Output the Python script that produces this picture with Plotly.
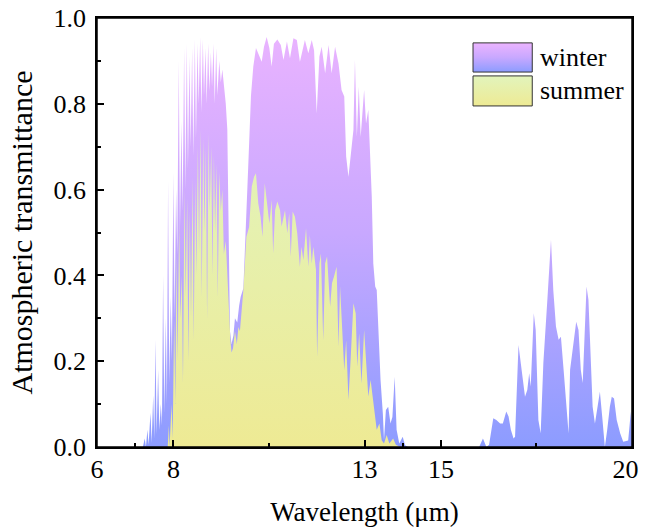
import plotly.graph_objects as go

# ---------------- data ----------------
winter_wl = [
    6.00, 7.10, 7.20, 7.25, 7.28, 7.32, 7.35, 7.40, 7.43, 7.47, 7.50, 7.53, 7.56, 7.60, 7.63,
    7.67, 7.70, 7.73, 7.76, 7.80, 7.83, 7.86, 7.89, 7.93, 7.96, 8.00, 8.03, 8.07, 8.10,
    8.14, 8.17, 8.21, 8.24, 8.28, 8.31, 8.35, 8.38, 8.42, 8.45, 8.49, 8.52, 8.56, 8.59,
    8.63, 8.66, 8.70, 8.73, 8.77, 8.80, 8.84, 8.87, 8.91, 8.94, 8.98, 9.01, 9.05, 9.08,
    9.12, 9.15, 9.20, 9.24, 9.28, 9.33, 9.37, 9.41, 9.445, 9.48, 9.52, 9.57, 9.61, 9.67,
    9.72, 9.76, 9.83, 9.90, 9.96, 10.03, 10.09, 10.16, 10.25, 10.31, 10.37, 10.44, 10.51,
    10.57, 10.63, 10.72, 10.81, 10.88, 10.97, 11.05, 11.14, 11.23, 11.31, 11.38, 11.44,
    11.53, 11.62, 11.68, 11.75, 11.82, 11.88, 11.97, 12.06, 12.14, 12.23, 12.32, 12.40,
    12.47, 12.52, 12.58, 12.64, 12.71, 12.75, 12.80, 12.85, 12.90, 12.99, 13.04, 13.10,
    13.19, 13.23, 13.28, 13.32, 13.36, 13.42, 13.48, 13.51, 13.56, 13.62, 13.68, 13.73,
    13.79, 13.84, 13.91, 14.00, 14.06, 14.14, 15.90, 16.00, 16.10, 16.19, 16.26, 16.37,
    16.45, 16.55, 16.62, 16.71, 16.77, 16.83, 16.90, 16.94, 17.03, 17.11, 17.20, 17.26,
    17.31, 17.35, 17.43, 17.48, 17.55, 17.61, 17.68, 17.79, 17.88, 17.94, 18.01, 18.08,
    18.14, 18.21, 18.28, 18.34, 18.38, 18.47, 18.54, 18.60, 18.66, 18.71, 18.77, 18.81,
    18.86, 18.92, 18.97, 19.03, 19.09, 19.16, 19.22, 19.29, 19.35, 19.42, 19.47, 19.53,
    19.60, 19.69, 19.77, 19.90, 19.97, 20.00,
]
winter_t = [
    0.00, 0.00, 0.00, 0.02, 0.00, 0.04, 0.005, 0.08, 0.01, 0.12, 0.02, 0.25, 0.03, 0.18, 0.04,
    0.10, 0.05, 0.40, 0.08, 0.30, 0.10, 0.62, 0.15, 0.35, 0.20, 0.64, 0.30, 0.60, 0.45,
    0.90, 0.50, 0.76, 0.55, 0.93, 0.60, 0.94, 0.65, 0.91, 0.70, 0.93, 0.68, 0.95, 0.72,
    0.94, 0.80, 0.955, 0.78, 0.95, 0.82, 0.93, 0.80, 0.94, 0.83, 0.92, 0.84, 0.94, 0.80,
    0.93, 0.82, 0.90, 0.85, 0.88, 0.84, 0.80, 0.74, 0.43, 0.27, 0.24, 0.26, 0.30, 0.29,
    0.33, 0.35, 0.37, 0.51, 0.66, 0.82, 0.887, 0.93, 0.91, 0.898, 0.933, 0.956, 0.93,
    0.887, 0.94, 0.95, 0.937, 0.902, 0.945, 0.906, 0.953, 0.949, 0.898, 0.925, 0.949,
    0.918, 0.949, 0.925, 0.778, 0.91, 0.933, 0.871, 0.937, 0.871, 0.933, 0.894, 0.832,
    0.817, 0.677, 0.63, 0.684, 0.739, 0.902, 0.723, 0.84, 0.723, 0.832, 0.754, 0.786,
    0.584, 0.428, 0.374, 0.366, 0.273, 0.156, 0.078, 0.016, 0.086, 0.094, 0.055, 0.07,
    0.164, 0.04, 0.008, 0.024, 0.004, 0.00, 0.00, 0.00, 0.02, 0.00, 0.005, 0.067,
    0.063, 0.055, 0.055, 0.083, 0.071, 0.04, 0.02, 0.024, 0.238, 0.18, 0.117, 0.133,
    0.172, 0.141, 0.312, 0.273, 0.063, 0.032, 0.195, 0.35, 0.483, 0.366, 0.281, 0.25,
    0.257, 0.18, 0.102, 0.032, 0.18, 0.25, 0.292, 0.273, 0.18, 0.149, 0.312, 0.374,
    0.343, 0.18, 0.094, 0.055, 0.094, 0.129, 0.071, 0.00, 0.039, 0.094, 0.117, 0.113,
    0.063, 0.032, 0.012, 0.015, 0.083, 0.005,
]

summer_wl = [
    6.00, 7.85, 7.88, 7.90, 7.95, 7.98, 8.02, 8.05, 8.08, 8.11, 8.15, 8.18, 8.22, 8.25,
    8.29, 8.32, 8.36, 8.39, 8.43, 8.46, 8.50, 8.53, 8.57, 8.60, 8.64, 8.67, 8.71, 8.74,
    8.78, 8.81, 8.85, 8.88, 8.92, 8.95, 8.99, 9.02, 9.06, 9.09, 9.13, 9.16, 9.20, 9.24,
    9.28, 9.32, 9.37, 9.41, 9.45, 9.49, 9.52, 9.56, 9.61, 9.66, 9.70, 9.74, 9.83, 9.91,
    9.98, 10.05, 10.11, 10.16, 10.22, 10.28, 10.33, 10.39, 10.44, 10.51, 10.57, 10.61,
    10.66, 10.72, 10.79, 10.83, 10.92, 10.98, 11.03, 11.07, 11.12, 11.18, 11.24, 11.31,
    11.35, 11.40, 11.47, 11.53, 11.57, 11.62, 11.66, 11.73, 11.76, 11.82, 11.86, 11.92,
    11.97, 12.02, 12.10, 12.15, 12.20, 12.27, 12.32, 12.36, 12.40, 12.47, 12.52, 12.58,
    12.64, 12.71, 12.77, 12.81, 12.86, 12.92, 12.99, 13.04, 13.10, 13.16, 13.21, 13.28,
    13.32, 13.39, 13.45, 13.51, 13.58, 13.65, 13.75, 13.82, 13.93, 20.00,
]
summer_t = [
    0.00, 0.00, 0.05, 0.00, 0.10, 0.02, 0.30, 0.10, 0.45, 0.20, 0.52, 0.30, 0.40, 0.15,
    0.60, 0.35, 0.58, 0.20, 0.55, 0.30, 0.63, 0.25, 0.62, 0.40, 0.70, 0.45, 0.74, 0.35,
    0.72, 0.50, 0.70, 0.30, 0.73, 0.55, 0.70, 0.40, 0.68, 0.50, 0.66, 0.35, 0.64, 0.55,
    0.60, 0.45, 0.48, 0.40, 0.30, 0.25, 0.22, 0.23, 0.27, 0.24, 0.28, 0.27, 0.366, 0.49,
    0.513, 0.607, 0.63, 0.638, 0.568, 0.537, 0.49, 0.615, 0.576, 0.521, 0.576, 0.451,
    0.552, 0.572, 0.552, 0.514, 0.552, 0.498, 0.545, 0.444, 0.549, 0.537, 0.498, 0.42,
    0.467, 0.436, 0.51, 0.42, 0.494, 0.428, 0.467, 0.413, 0.21, 0.428, 0.451, 0.249,
    0.428, 0.444, 0.327, 0.382, 0.397, 0.42, 0.234, 0.374, 0.304, 0.179, 0.249, 0.11,
    0.21, 0.335, 0.312, 0.187, 0.265, 0.148, 0.273, 0.203, 0.118, 0.156, 0.118, 0.07,
    0.04, 0.055, 0.016, 0.008, 0.028, 0.008, 0.02, 0.005, 0.00, 0.00,
]

series_names = ["winter", "summer"]
x_major_ticks = [6, 8, 13, 15, 20]
x_tick_labels = ["6", "8", "13", "15", "20\u2007"]
x_minor_ticks = [7, 10.5, 14, 17.5]
y_major_ticks = [0.0, 0.2, 0.4, 0.6, 0.8, 1.0]
y_minor_ticks = [0.1, 0.3, 0.5, 0.7, 0.9]

# ---------------- styling ----------------
FONT = "Liberation Serif"
winter_scale = [[0.0, "#8c9cff"], [0.5, "#c8a8ff"], [1.0, "#ecb4ff"]]
summer_scale = [[0.0, "#eeea94"], [1.0, "#e2f4bc"]]

fig = go.Figure()

fig.add_trace(go.Scatter(
    x=winter_wl, y=winter_t, mode="lines", line=dict(width=0),
    fill="tozeroy",
    fillgradient=dict(type="vertical", colorscale=winter_scale, start=0, stop=1),
    showlegend=False, hoverinfo="skip",
))
fig.add_trace(go.Scatter(
    x=summer_wl, y=summer_t, mode="lines", line=dict(width=0),
    fill="tozeroy",
    fillgradient=dict(type="vertical", colorscale=summer_scale, start=0, stop=0.75),
    showlegend=False, hoverinfo="skip",
))

# custom legend swatches (data coordinates)
lx0, lx1 = 15.84, 17.39
boxes = [(0.874, 0.942, winter_scale), (0.795, 0.865, summer_scale)]
for (y0, y1, cs), name in zip(boxes, series_names):
    fig.add_trace(go.Scatter(
        x=[lx0, lx1, lx1, lx0, lx0], y=[y0, y0, y1, y1, y0],
        mode="lines", line=dict(color="#333333", width=1),
        fill="toself",
        fillgradient=dict(type="vertical", colorscale=cs, start=y0, stop=y1),
        showlegend=False, hoverinfo="skip",
    ))
    fig.add_annotation(
        x=17.55, y=(y0 + y1) / 2, xref="x", yref="y", text=name,
        showarrow=False, xanchor="left", yanchor="middle",
        font=dict(family=FONT, size=26, color="black"),
    )

# plot frame
fig.add_shape(type="rect", xref="paper", yref="paper", x0=0, x1=1, y0=0, y1=1,
              line=dict(color="black", width=1.5), fillcolor="rgba(0,0,0,0)", layer="above")

fig.update_layout(
    template="none",
    width=646, height=529,
    margin=dict(l=97, r=14, t=18, b=82, autoexpand=False),
    paper_bgcolor="white", plot_bgcolor="white",
    font=dict(family=FONT, size=26, color="black"),
    showlegend=False,
)
fig.update_xaxes(
    range=[6, 20], showgrid=False, zeroline=False, automargin=False,
    showline=True, linecolor="black", linewidth=1.5, mirror=True,
    tickmode="array", tickvals=x_major_ticks, ticktext=x_tick_labels,
    ticks="inside", ticklen=7, tickwidth=1.5, tickcolor="black",
    ticklabelstandoff=-2, ticklabeloverflow="allow",
    tickfont=dict(family=FONT, size=26),
    minor=dict(tickvals=x_minor_ticks, ticks="inside", ticklen=4, tickwidth=1.5, tickcolor="black"),
    title=dict(text="Wavelength (μm)", font=dict(family=FONT, size=27), standoff=19),
)
fig.update_yaxes(
    range=[0, 1.0], showgrid=False, zeroline=False, automargin=False,
    showline=True, linecolor="black", linewidth=1.5, mirror=True,
    tickmode="array", tickvals=y_major_ticks, tickformat=".1f",
    ticks="inside", ticklen=7, tickwidth=1.5, tickcolor="black",
    ticklabelstandoff=4, ticklabeloverflow="allow",
    tickfont=dict(family=FONT, size=26),
    minor=dict(tickvals=y_minor_ticks, ticks="inside", ticklen=4, tickwidth=1.5, tickcolor="black"),
    title=dict(text="Atmospheric transmittance", font=dict(family=FONT, size=30), standoff=12),
)

# remove the page's default body margin so the 646x529 figure fills the window exactly
fig.write_html(
    "out.html",
    config={"displayModeBar": False},
    post_script="document.body.style.margin='0px';",
)
